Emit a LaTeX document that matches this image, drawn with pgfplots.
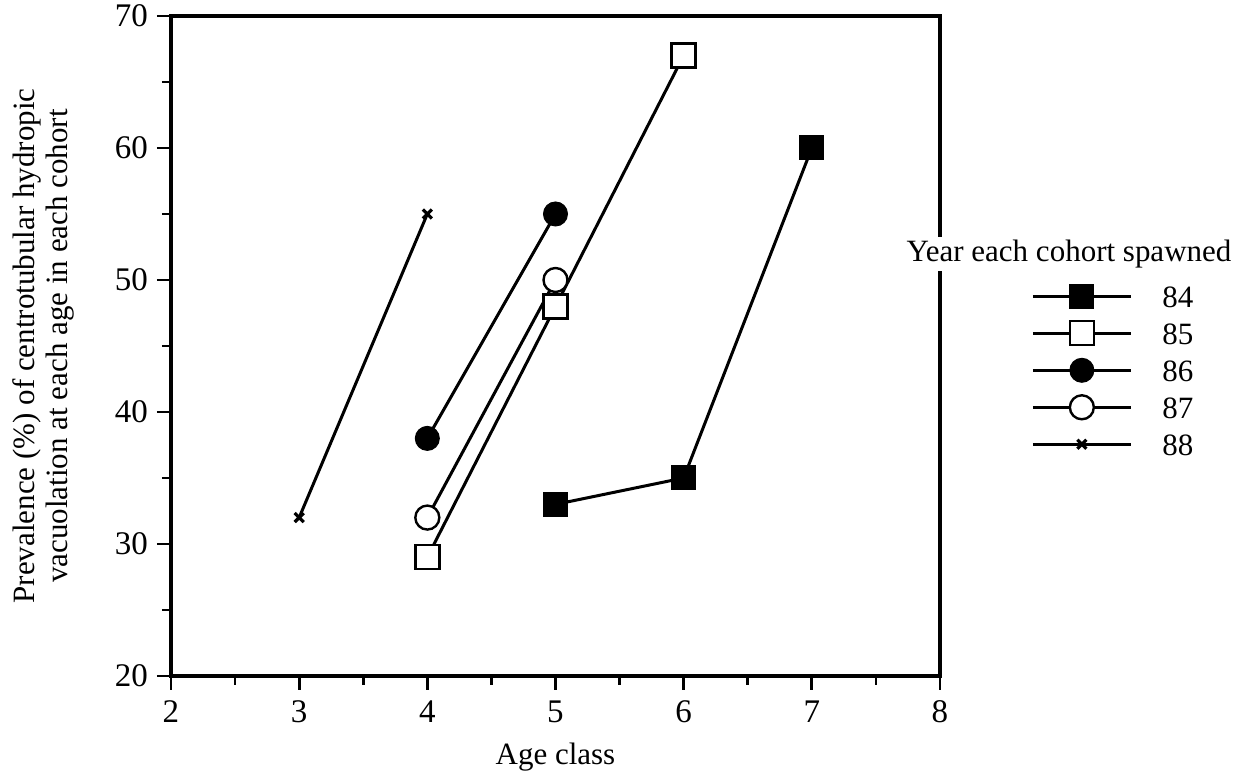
\documentclass[border=0pt]{standalone}
\usepackage{fontspec}
\setmainfont{Liberation Serif}
\usepackage{pgfplots}
\pgfplotsset{compat=1.18}
\begin{document}
\begin{tikzpicture}
\useasboundingbox (-85.5pt,-51.5pt) rectangle (539.5pt,338pt);
\begin{axis}[
  at={(0,0)}, anchor=south west,
  scale only axis,
  width=384.5pt, height=330pt,
  xmin=2, xmax=8, ymin=20, ymax=70,
  xtick={2,...,8}, ytick={20,30,...,70},
  minor x tick num=1, minor y tick num=1,
  tick align=outside,
  xtick pos=left, ytick pos=left,
  major tick length=7pt, minor tick length=4.5pt,
  every tick/.style={black, line width=1.4pt},
  axis line style={line width=1.6pt},
  /pgf/number format/assume math mode=true,
  ticklabel style={font=\fontsize{16.5}{17}\selectfont},
  xticklabel style={yshift=-2pt},
  yticklabel style={xshift=-1pt},
  xlabel={Age class},
  xlabel style={at={(axis description cs:0.5,-0.1227)}, anchor=center, font=\fontsize{15.5}{16}\selectfont},
  ylabel={Prevalence (\%) of centrotubular hydropic\\vacuolation at each age in each cohort},
  ylabel style={at={(axis description cs:-0.166,0.5)}, anchor=center, rotate=0, align=center, font=\fontsize{15.5}{16.5}\selectfont},
  legend style={at={(axis description cs:1.1105,0.6100)}, anchor=north west, draw=none, fill=none,
    font=\fontsize{15.5}{16}\selectfont,
    nodes={inner sep=0pt, text height=14.75pt, text depth=3.75pt},
    /tikz/every odd column/.append style={column sep=15pt}},
  legend cell align=left,
  legend image code/.code={\draw[mark repeat=2,mark phase=2,#1] plot coordinates {(0pt,0pt)(24.5pt,0pt)(49pt,0pt)};},
]
\addplot[black, line width=1.5pt, mark=square*, mark size=6pt, mark options={solid, line width=0.5pt, fill=black}]
  coordinates {(5,33) (6,35) (7,60)};
\addlegendentry{84}
\addplot[black, line width=1.5pt, mark=square*, mark size=6pt, mark options={solid, line width=1.2pt, fill=white}]
  coordinates {(4,29) (5,48) (6,67)};
\addlegendentry{85}
\addplot[black, line width=1.5pt, mark=*, mark size=6pt, mark options={solid, line width=0.5pt, fill=black}]
  coordinates {(4,38) (5,55)};
\addlegendentry{86}
\addplot[black, line width=1.5pt, mark=*, mark size=6pt, mark options={solid, line width=1.2pt, fill=white}]
  coordinates {(4,32) (5,50)};
\addlegendentry{87}
\addplot[black, line width=1.5pt, mark=x, mark size=3.2pt, mark options={solid, line width=1.6pt}]
  coordinates {(3,32) (4,55)};
\addlegendentry{88}
\end{axis}
\node[fill=white, inner sep=1.5pt, font=\fontsize{15.5}{16}\selectfont] at (449pt,211pt) {Year each cohort spawned};
\end{tikzpicture}
\end{document}
